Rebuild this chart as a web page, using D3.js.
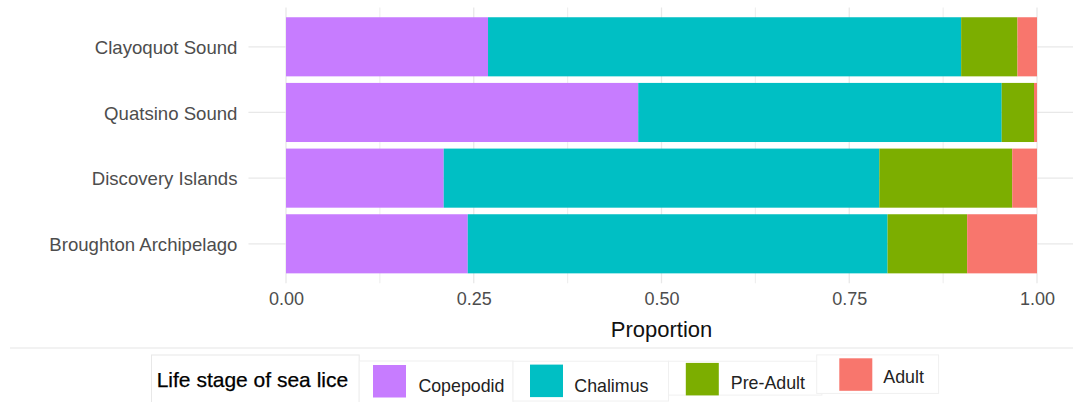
<!DOCTYPE html>
<html>
<head>
<meta charset="utf-8" />
<script src="https://d3js.org/d3.v7.min.js"></script>
<style>
	body { margin: 0; background: #fff; }
	text { font-family: "Liberation Sans", Arial, sans-serif; }
</style>
</head>
<body>
<div id="chart"></div>
<script>

// data (proportions per site)
var sites = ["Clayoquot Sound", "Quatsino Sound", "Discovery Islands", "Broughton Archipelago"];
var stages = ["Copepodid", "Chalimus", "Pre-Adult", "Adult"];
var copepodid = [0.269, 0.469, 0.210, 0.242];
var chalimus = [0.630, 0.484, 0.580, 0.559];
var preAdult = [0.075, 0.043, 0.177, 0.106];
var adult = [0.026, 0.004, 0.033, 0.093];
var xTicks = [0, 0.25, 0.5, 0.75, 1];
var xMinor = [0.125, 0.375, 0.625, 0.875];

var colors = ["#C77CFF", "#00BFC4", "#7CAE00", "#F8766D"];

var width = 1073, height = 402;

var svg = d3.select("#chart")
	.append("svg")
	.attr("width", width)
	.attr("height", height);

// build rows for the stack
var rows = sites.map(function (s, i) {
	return { site: s, "Copepodid": copepodid[i], "Chalimus": chalimus[i], "Pre-Adult": preAdult[i], "Adult": adult[i] };
});
var series = d3.stack().keys(stages)(rows);

var x = d3.scaleLinear().domain([0, 1]).range([286, 1037]);
var y = d3.scalePoint().domain(sites).range([7.4, 283.2]).padding(0.6);
var bandH = y.step() * 0.9;

var panelLeft = x(-0.05), panelRight = x(1.05);

// grid lines
svg.selectAll("line.minor")
	.data(xMinor).enter()
	.append("line")
	.attr("x1", function (d) { return x(d); })
	.attr("x2", function (d) { return x(d); })
	.attr("y1", 7.4).attr("y2", 283.2)
	.style("stroke", "#eeeeee")
	.style("stroke-width", 1.1);

svg.selectAll("line.major")
	.data(xTicks).enter()
	.append("line")
	.attr("x1", function (d) { return x(d); })
	.attr("x2", function (d) { return x(d); })
	.attr("y1", 7.4).attr("y2", 283.2)
	.style("stroke", "#e8e8e8")
	.style("stroke-width", 1.3);

svg.selectAll("line.hgrid")
	.data(sites).enter()
	.append("line")
	.attr("x1", panelLeft).attr("x2", panelRight)
	.attr("y1", function (d) { return y(d); })
	.attr("y2", function (d) { return y(d); })
	.style("stroke", "#e8e8e8")
	.style("stroke-width", 1.3);

// the stacked bars
svg.selectAll("g.layer")
	.data(series).enter()
	.append("g")
	.style("fill", function (d, i) { return colors[i]; })
	.selectAll("rect")
	.data(function (d) { return d; }).enter()
	.append("rect")
	.attr("x", function (d) { return x(d[0]); })
	.attr("width", function (d) { return x(d[1]) - x(d[0]); })
	.attr("y", function (d) { return y(d.data.site) - bandH / 2; })
	.attr("height", bandH);

// y axis labels
var yAxis = svg.append("g")
	.attr("transform", "translate(" + panelLeft + ",0)")
	.call(d3.axisLeft(y).tickSize(0).tickPadding(11));
yAxis.select(".domain").remove();
yAxis.selectAll("text")
	.style("font-size", "18.6px")
	.style("fill", "#4d4d4d")
	.attr("dy", "0.36em");

// x axis labels
var xAxis = svg.append("g")
	.attr("transform", "translate(0,283.2)")
	.call(d3.axisBottom(x).tickValues(xTicks).tickFormat(d3.format(".2f")).tickSize(0).tickPadding(9));
xAxis.select(".domain").remove();
xAxis.selectAll("text")
	.style("font-size", "18px")
	.style("fill", "#4d4d4d");

svg.append("text")
	.attr("x", x(0.5))
	.attr("y", 336.7)
	.attr("text-anchor", "middle")
	.style("font-size", "22px")
	.style("fill", "#111")
	.text("Proportion");

// separator line above the legend
svg.append("line")
	.attr("x1", 10).attr("x2", width)
	.attr("y1", 348).attr("y2", 348)
	.style("stroke", "#e6e6e6")
	.style("stroke-width", 1.2);

// legend (pieces sit a little offset from each other, like in the picture)
var legendTitle = "Life stage of sea lice";
var titleBox = { x: 151.5, y: 355, w: 207.7, h: 50 };
var legendBoxes = [
	{ x: 359.2, y: 361, w: 153.8, h: 44, sx: 373, sy: 365, tx: 418.4, ty: 392 },
	{ x: 513, y: 361.2, w: 155.5, h: 39.8, sx: 530, sy: 364.6, tx: 574.3, ty: 391.6 },
	{ x: 668.5, y: 361.2, w: 153.4, h: 33.9, sx: 685.8, sy: 362.9, tx: 730.8, ty: 388.9 },
	{ x: 816.7, y: 354.9, w: 121.9, h: 38.5, sx: 839.3, sy: 358.3, tx: 883.3, ty: 383 }
];

var legend = svg.append("g");

legend.append("rect")
	.attr("x", titleBox.x).attr("y", titleBox.y)
	.attr("width", titleBox.w).attr("height", titleBox.h)
	.style("fill", "#fff")
	.style("stroke", "#e8e8e8");

legend.append("text")
	.attr("x", 156.7)
	.attr("y", 386.7)
	.style("font-size", "21px")
	.style("fill", "#000")
	.style("stroke", "#000")
	.style("stroke-width", 0.25)
	.text(legendTitle);

var items = legend.selectAll("g.item")
	.data(stages).enter()
	.append("g");

items.append("rect")
	.attr("x", function (d, i) { return legendBoxes[i].x; })
	.attr("y", function (d, i) { return legendBoxes[i].y; })
	.attr("width", function (d, i) { return legendBoxes[i].w; })
	.attr("height", function (d, i) { return legendBoxes[i].h; })
	.style("fill", "#fff")
	.style("stroke", "#f0f0f0");

items.append("rect")
	.attr("x", function (d, i) { return legendBoxes[i].sx; })
	.attr("y", function (d, i) { return legendBoxes[i].sy; })
	.attr("width", 33)
	.attr("height", 32.5)
	.style("fill", function (d, i) { return colors[i]; });

items.append("text")
	.attr("x", function (d, i) { return legendBoxes[i].tx; })
	.attr("y", function (d, i) { return legendBoxes[i].ty; })
	.style("font-size", "17.8px")
	.style("fill", "#222")
	.text(function (d) { return d; });

</script>
</body>
</html>
